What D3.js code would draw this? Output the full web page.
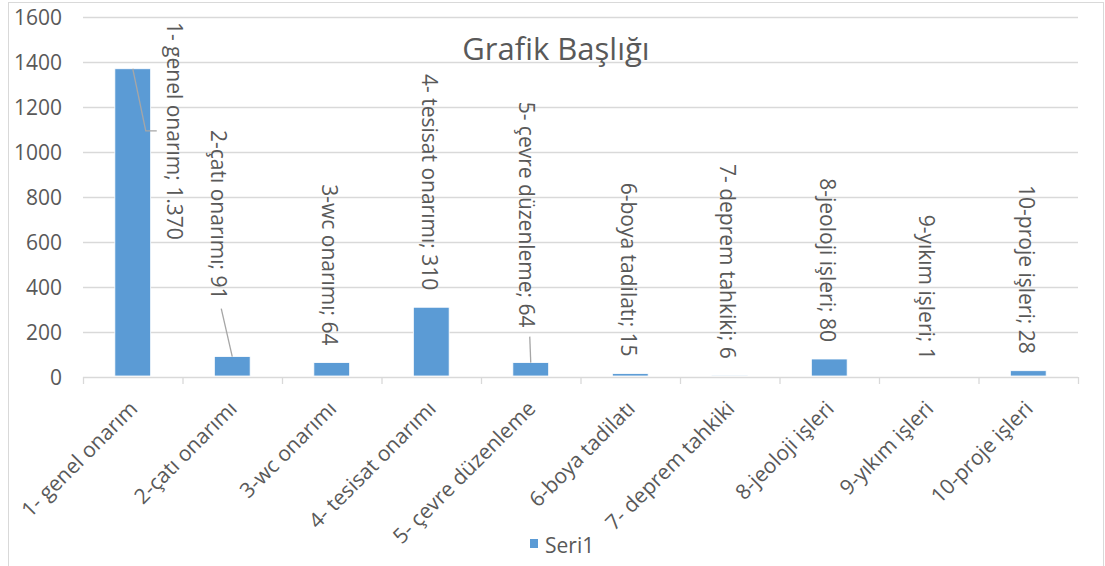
<!DOCTYPE html>
<html><head><meta charset="utf-8">
<script src="https://cdn.jsdelivr.net/npm/d3@7"></script>
<style>body{margin:0;background:#fff}svg{display:block}text{font-family:"Open Sans",sans-serif;fill:#595959}</style>
</head><body><svg id="c" width="1105" height="566"></svg>
<script>
const categories = ["1- genel onarım","2-çatı onarımı","3-wc onarımı","4- tesisat onarımı","5- çevre düzenleme","6-boya tadilatı","7- deprem tahkiki","8-jeoloji işleri","9-yıkım işleri","10-proje işleri"];
const values = [1370, 91, 64, 310, 64, 15, 6, 80, 1, 28];
const valueLabels = ["1.370","91","64","310","64","15","6","80","1","28"];
const yTicks = [0,200,400,600,800,1000,1200,1400,1600];
const seriesName = "Seri1";
const title = "Grafik Başlığı";
// manual label nudges (dx, dy from default position)
const labelNudge = [[44,188],[-12,-40],[0,0],[0,0],[-2,-18],[0,0],[0,0],[0,0],[0,0],[0,0]];

const svg = d3.select("#c");
const x0=83,x1=1078,yTop=17,yBase=377;
svg.append("rect").attr("x",8.5).attr("y",2.5).attr("width",1095).attr("height",575).attr("fill","#fff").attr("stroke","#d9d9d9");

const x = d3.scaleBand().domain(categories).range([x0,x1]).paddingInner(0.64).paddingOuter(0.32);
const y = d3.scaleLinear().domain([0,1600]).range([yBase,yTop]);

// gridlines
svg.append("g").selectAll("line").data(yTicks.filter(d=>d>0)).join("line")
  .attr("x1",x0).attr("x2",x1).attr("y1",d=>Math.round(y(d))+0.5).attr("y2",d=>Math.round(y(d))+0.5)
  .attr("stroke","#d9d9d9").attr("stroke-width",1.3);

// y axis labels
const yAxis = d3.axisLeft(y).tickValues(yTicks).tickSize(0).tickPadding(0).tickFormat(d3.format("d"));
const gy = svg.append("g").attr("transform",`translate(62,0)`).call(yAxis);
gy.select(".domain").remove();
gy.selectAll("text").style("font-size","21px").attr("fill","#595959").attr("dy","0.35em");

// bars
svg.append("g").selectAll("rect").data(values).join("rect")
  .attr("x",(d,i)=>x(categories[i])).attr("width",x.bandwidth())
  .attr("y",d=>y(d)).attr("height",d=>yBase-y(d)-1)
  .attr("fill","#5b9bd5").attr("stroke","#fff").attr("stroke-width",0.8);

// x axis
const step = x.step();
const xAxis = d3.axisBottom(x).tickSize(0).tickFormat("");
const gx = svg.append("g").attr("transform",`translate(0,${yBase+0.5})`).call(xAxis);
gx.select(".domain").attr("stroke","#d9d9d9").attr("stroke-width",1.3).attr("d",`M${x0},0H${x1}`);
const bounds = d3.range(categories.length+1).map(i=>x0+i*step);
svg.append("g").selectAll("line").data(bounds).join("line")
  .attr("x1",d=>d+0.5).attr("x2",d=>d+0.5).attr("y1",yBase).attr("y2",yBase+7)
  .attr("stroke","#d9d9d9").attr("stroke-width",1.3);

// category labels
svg.append("g").selectAll("text").data(categories).join("text")
  .attr("transform",d=>`translate(${x(d)+x.bandwidth()/2+6},${yBase+33}) rotate(-45)`)
  .attr("text-anchor","end").style("font-size","21px").text(d=>d);

// data labels
const labels = categories.map((c,i)=>{
  const cx = x(c)+x.bandwidth()/2 - 2 + labelNudge[i][0];
  const yEnd = y(values[i]) - 17 + labelNudge[i][1];
  return {cx,yEnd,text:`${c}; ${valueLabels[i]}`,i};
});
const lt = svg.append("g").selectAll("text").data(labels).join("text")
  .attr("transform",d=>`translate(${d.cx},${d.yEnd}) rotate(90)`)
  .attr("text-anchor","end").attr("dy","0.35em").style("font-size","21px").text(d=>d.text);

// leader lines
const lead = svg.append("g").attr("fill","none").attr("stroke","#a6a6a6").attr("stroke-width",1.3);
lt.each(function(d){ d.yStart = d.yEnd - this.getComputedTextLength(); });
labels.forEach((d,i)=>{
  if(labelNudge[i][0]===0 && labelNudge[i][1]===0) return;
  const bx = x(categories[i])+x.bandwidth()/2, by = y(values[i]);
  if(i===0){
    const my = (d.yStart+d.yEnd)/2;
    lead.append("path").attr("d",`M${bx},${by}L${bx+13},${my}H${d.cx-18}`);
  } else {
    lead.append("path").attr("d",`M${d.cx+3},${d.yEnd+9}L${bx},${by}`);
  }
});

// title
svg.append("text").attr("x",556).attr("y",60).attr("text-anchor","middle").style("font-size","31px").text(title);

// legend
svg.append("rect").attr("x",530).attr("y",539).attr("width",8).attr("height",9).attr("fill","#5b9bd5");
svg.append("text").attr("x",545).attr("y",553).style("font-size","21px").text(seriesName);
</script></body></html>
